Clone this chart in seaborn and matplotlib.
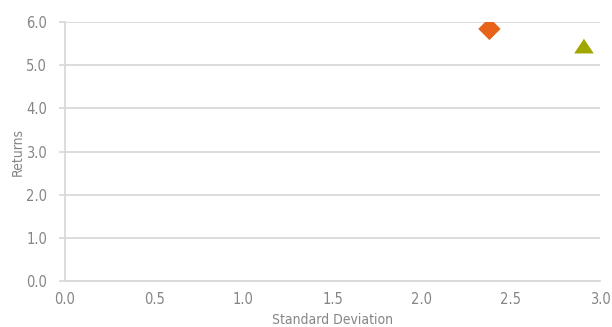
import matplotlib
matplotlib.use("Agg")
import matplotlib.pyplot as plt
import seaborn as sns
import pandas as pd

# data
names = ["Fund A", "Fund B"]
std_dev = [2.38, 2.91]
returns = [5.84, 5.43]
colors = ["#e8631a", "#a0a800"]

sns.set_theme(style="white")
plt.rcParams["font.family"] = ["DejaVu Sans"]
plt.rcParams["font.stretch"] = "condensed"

df = pd.DataFrame({"name": names, "sd": std_dev, "ret": returns})

# flat triangle like the original marker
tri = [(-1, -0.7), (1, -0.7), (0, 0.8), (-1, -0.7)]

fig = plt.figure(figsize=(6.12, 3.27), dpi=100)
ax = fig.add_axes([65/612, 1 - 281/327, 535/612, 259/327])

sns.scatterplot(data=df, x="sd", y="ret", hue="name", style="name",
                markers={"Fund A": "D", "Fund B": tri}, palette=dict(zip(names, colors)),
                size="name", sizes={"Fund A": 130, "Fund B": 200},
                edgecolor="none", linewidth=0, legend=False, ax=ax, zorder=3)

ax.set_xlim(0, 3.0)
ax.set_ylim(0, 6.0)
ax.set_xticks([0, 0.5, 1.0, 1.5, 2.0, 2.5, 3.0])
ax.set_yticks([0, 1, 2, 3, 4, 5, 6])
ax.xaxis.set_major_formatter(matplotlib.ticker.FormatStrFormatter("%.1f"))
ax.yaxis.set_major_formatter(matplotlib.ticker.FormatStrFormatter("%.1f"))
ax.yaxis.grid(True, color="#d9d9d9", lw=1.3)
ax.set_axisbelow(True)
for s in ["top", "right"]:
    ax.spines[s].set_visible(False)
for s in ["left", "bottom"]:
    ax.spines[s].set_color("#d9d9d9")
    ax.spines[s].set_linewidth(1.3)
ax.tick_params(axis="y", left=True, length=4, color="#d9d9d9", labelsize=10.5, labelcolor="#858585", pad=9)
ax.tick_params(axis="x", bottom=False, labelsize=10.5, labelcolor="#858585", pad=2)
ax.set_xlabel("Standard Deviation", color="#858585", fontsize=10, labelpad=4)
ax.set_ylabel("Returns", color="#858585", fontsize=10, labelpad=1)

fig.savefig("out.png", dpi=100)
